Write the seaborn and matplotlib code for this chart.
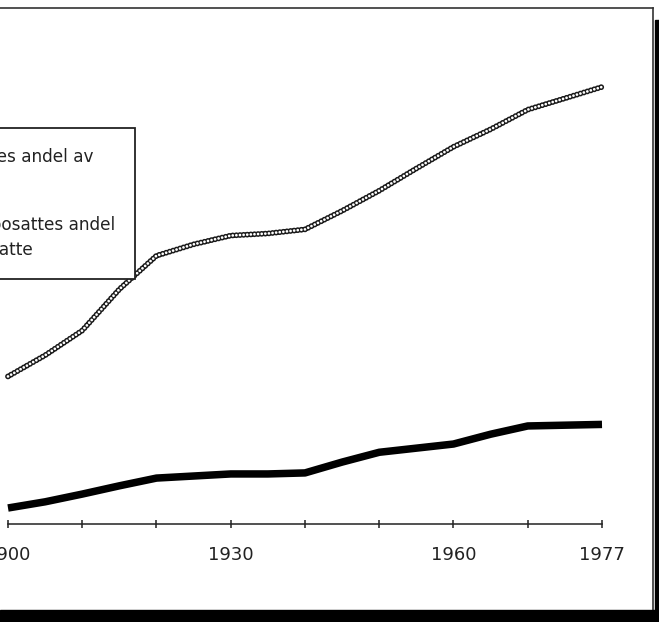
import numpy as np
import pandas as pd
import seaborn as sns
from matplotlib import pyplot as plt
from matplotlib.patches import Rectangle

# ticks on the time axis (last step is only 7 years but drawn equally wide)
tick_years = [1900, 1910, 1920, 1930, 1940, 1950, 1960, 1970, 1977]
tick_labels = ["1900", "", "", "1930", "", "", "1960", "", "1977"]

years = [1900, 1905, 1910, 1915, 1920, 1925, 1930, 1935, 1940,
         1945, 1950, 1955, 1960, 1965, 1970, 1977]
upper = [28.6, 32.7, 37.5, 45.5, 52.0, 54.2, 55.9, 56.3, 57.1,
         60.7, 64.6, 68.9, 73.1, 76.5, 80.3, 84.7]
lower = [3.1, 4.3, 5.8, 7.4, 8.9, 9.3, 9.7, 9.7, 9.9,
         12.0, 13.9, 14.7, 15.5, 17.4, 19.0, 19.3]

label_upper = "Tettstedenes andel av\nlandet"
label_lower = "Tettsteds-bosattes andel\nav alle bosatte"

df = pd.DataFrame({"year": years, "upper": upper, "lower": lower})


def fwd(y):
    y = np.asarray(y, dtype=float)
    return np.where(y <= 1970, (y - 1900) / 10.0, 7 + (y - 1970) / 7.0)


def inv(x):
    x = np.asarray(x, dtype=float)
    return np.where(x <= 7, 1900 + 10.0 * x, 1970 + 7.0 * (x - 7))


sns.set_style("white")
plt.rcParams["font.family"] = ["DejaVu Sans"]
plt.rcParams["lines.scale_dashes"] = False

W, H = 659, 622
fig = plt.figure(figsize=(W / 100, H / 100), dpi=100)
fig.patch.set_facecolor("white")

# axes frame: top at 8 px, right at 653 px, bottom hidden under the black band
px0, px_step = 8.0, 74.25
left_px = px0 - 1.5 * px_step
right_px = 653.0
top_px, bottom_px = 8.0, 612.0
ax = fig.add_axes([left_px / W, 1 - bottom_px / H,
                   (right_px - left_px) / W, (bottom_px - top_px) / H])
ax.set_xscale("function", functions=(fwd, inv))
ax.set_xlim(float(inv(-1.5)), float(inv((right_px - px0) / px_step)))
ax.set_ylim(-(bottom_px - 524) / 5.16, 100)

# lower series: thick solid black
sns.lineplot(data=df, x="year", y="lower", ax=ax, color="black",
             linewidth=5.4, solid_capstyle="butt", solid_joinstyle="round")

# upper series: chain of small hollow rings
sns.lineplot(data=df, x="year", y="upper", ax=ax, color="#1a1a1a",
             linewidth=4.2, linestyle=(0, (0.01, 2.6)), dash_capstyle="round")
sns.lineplot(data=df, x="year", y="upper", ax=ax, color="white",
             linewidth=2.0, linestyle=(0, (0.01, 2.6)), dash_capstyle="round")

ax.spines["left"].set_visible(False)
for sp in ["top", "right"]:
    ax.spines[sp].set_linewidth(1.2)
    ax.spines[sp].set_color("#333333")
ax.spines["bottom"].set_position(("data", 0))
ax.spines["bottom"].set_bounds(1900, 1977)
ax.spines["bottom"].set_linewidth(1.1)
ax.spines["bottom"].set_color("#222222")

ax.set_xticks(tick_years)
ax.set_xticklabels(tick_labels)
ax.set_yticks([])
ax.tick_params(axis="x", bottom=True, direction="inout", length=6, width=1.1,
               color="#222222", pad=13, labelsize=13, labelcolor="#222222")
ax.set_xlabel("")
ax.set_ylabel("")

handles = [ax.lines[1], ax.lines[0]]
leg = ax.legend(handles, [label_upper, label_lower], loc="upper right",
                bbox_to_anchor=(135 / W, 1 - 128 / H),
                bbox_transform=fig.transFigure, borderaxespad=0,
                fontsize=12.2, frameon=True, fancybox=False, framealpha=1,
                edgecolor="#222222", borderpad=1.18, labelspacing=1.42,
                handlelength=2.0, handletextpad=0.8)
leg.get_frame().set_linewidth(1.3)
for t in leg.get_texts():
    t.set_linespacing(1.54)
    t.set_color("#222222")

# scan border
fig.add_artist(Rectangle((0, 0), 1, 12 / H, transform=fig.transFigure,
                         color="black", zorder=10))
fig.add_artist(Rectangle((655 / W, 0), 4 / W, (H - 20) / H,
                         transform=fig.transFigure, color="black", zorder=10))

fig.savefig("out.png", dpi=100)
